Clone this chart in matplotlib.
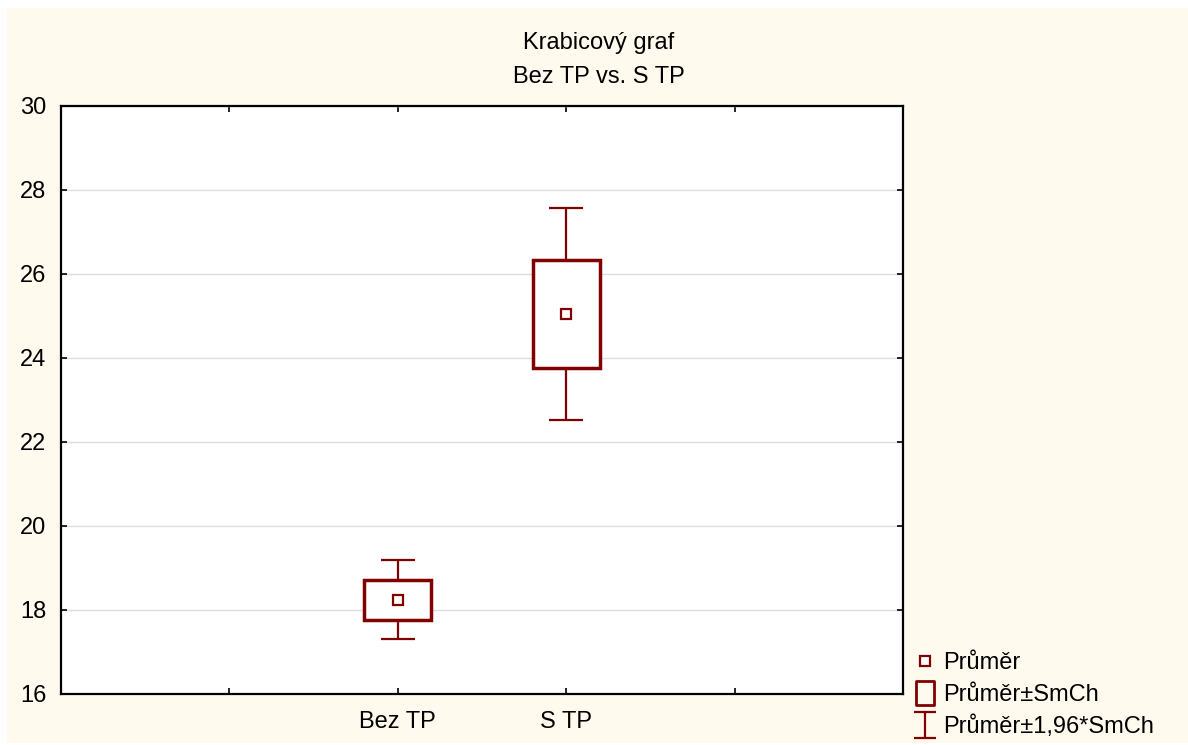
import matplotlib
matplotlib.use("Agg")
import matplotlib.pyplot as plt
from matplotlib.patches import Rectangle
from matplotlib.lines import Line2D
from matplotlib.path import Path

# Group summaries: mean and standard error (SmCh)
categories = ["Bez TP", "S TP"]
means = [18.24, 25.05]
std_errors = [0.48, 1.29]
ci_factor = 1.96

y_ticks = [16, 18, 20, 22, 24, 26, 28, 30]
x_positions = [2, 3]

plt.rcParams["font.family"] = ["Liberation Sans", "DejaVu Sans"]

dark_red = "#800000"
cream = "#FFF9EE"
fs = 17

fig = plt.figure(figsize=(11.88, 7.45), dpi=100)
fig.patch.set_facecolor("white")
# Cream panel behind the whole chart
fig.patches.append(Rectangle((7 / 1188, 0.003), 1 - 7 / 1188, 1 - 8 / 745 - 0.003,
                             transform=fig.transFigure, facecolor=cream,
                             edgecolor="none", zorder=-10))

ax = fig.add_axes([61 / 1188, 51 / 745, 842 / 1188, 588 / 745])
ax.set_facecolor("white")
ax.set_xlim(0, 5)
ax.set_ylim(16, 30)

box_w = 0.4
cap_half = 0.1
for x, m, se in zip(x_positions, means, std_errors):
    lo_w, hi_w = m - ci_factor * se, m + ci_factor * se
    ax.vlines(x, lo_w, hi_w, color=dark_red, lw=1.6, zorder=3)
    ax.hlines([lo_w, hi_w], x - cap_half, x + cap_half, color=dark_red, lw=1.6, zorder=3)
    ax.add_patch(Rectangle((x - box_w / 2, m - se), box_w, 2 * se,
                           facecolor="white", edgecolor=dark_red, lw=2.5, zorder=4))
    ax.plot(x, m, marker="s", ms=6.5, mfc="white", mec=dark_red, mew=1.6,
            ls="none", zorder=5)

ax.set_yticks(y_ticks)
ax.set_xticks([1, 2, 3, 4])
ax.set_xticklabels(["", categories[0], categories[1], ""])
ax.yaxis.grid(True, color="#dddddd", lw=1.0)
ax.set_axisbelow(True)
ax.tick_params(axis="both", direction="in", length=4, width=1.2, color="black",
               labelsize=fs, top=True, right=True)
ax.tick_params(axis="y", pad=10.5)
ax.tick_params(axis="x", pad=12)
for s in ax.spines.values():
    s.set_linewidth(1.6)
    s.set_color("black")

fig.text(0.504, 1 - 43 / 745, "Krabicový graf", ha="center", va="center", fontsize=fs)
fig.text(0.504, 1 - 77 / 745, "Bez TP vs. S TP", ha="center", va="center", fontsize=fs)

# Legend with custom glyphs
rect_path = Path([(-0.4, -0.5), (0.4, -0.5), (0.4, 0.5), (-0.4, 0.5), (-0.4, -0.5)],
                 [Path.MOVETO, Path.LINETO, Path.LINETO, Path.LINETO, Path.CLOSEPOLY])
ibeam_path = Path([(-0.4, -0.5), (0.4, -0.5), (0, -0.5), (0, 0.5), (-0.4, 0.5), (0.4, 0.5)],
                  [Path.MOVETO, Path.LINETO, Path.MOVETO, Path.LINETO, Path.MOVETO, Path.LINETO])
handles = [
    Line2D([], [], ls="none", marker="s", ms=6.5, mfc="white", mec=dark_red, mew=1.6),
    Line2D([], [], ls="none", marker=rect_path, ms=17, mfc="none", mec=dark_red, mew=2.0),
    Line2D([], [], ls="none", marker=ibeam_path, ms=19, mfc="none", mec=dark_red, mew=1.6),
]
labels = ["Průměr", "Průměr±SmCh", "Průměr±1,96*SmCh"]
fig.legend(handles, labels, loc="lower left", bbox_to_anchor=(897 / 1188, -10 / 745),
           frameon=False, fontsize=fs, handlelength=1.0, handletextpad=0.25,
           labelspacing=0.42, borderpad=0.2)

fig.savefig("out.png", dpi=100, facecolor=fig.get_facecolor())
